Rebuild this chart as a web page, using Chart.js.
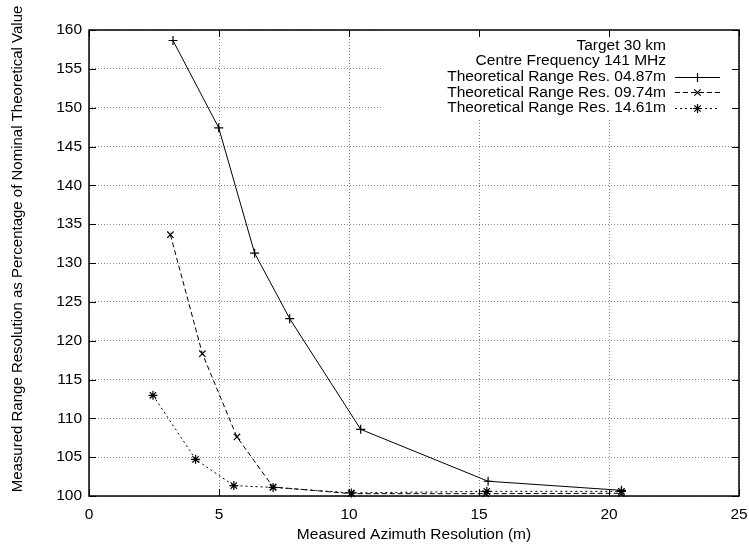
<!DOCTYPE html>
<html>
<head>
<meta charset="utf-8">
<script src="https://cdn.jsdelivr.net/npm/chart.js@4.4.1/dist/chart.umd.min.js"></script>
<style>
  html, body { margin: 0; padding: 0; background: #fff; }
  #wrap { width: 749px; height: 550px; }
</style>
</head>
<body>
<div id="wrap"><canvas id="c" width="749" height="550"></canvas></div>
<script>
// ---- data ----
const xTickValues = [0, 5, 10, 15, 20, 25];
const yTickValues = [100, 105, 110, 115, 120, 125, 130, 135, 140, 145, 150, 155, 160];

const res487X = [3.23, 4.99, 6.37, 7.72, 10.45, 15.35, 20.48];
const res487Y = [158.65, 147.4, 131.27, 122.83, 108.58, 101.9, 100.73];

const res974X = [3.13, 4.36, 5.69, 7.08, 10.09, 15.26, 20.48];
const res974Y = [133.64, 118.33, 107.6, 101.16, 100.3, 100.3, 100.35];

const res1461X = [2.46, 4.10, 5.57, 7.08, 10.09, 15.30, 20.48];
const res1461Y = [112.96, 104.72, 101.34, 101.1, 100.4, 100.6, 100.6];

const seriesLabels = [
  'Theoretical Range Res. 04.87m',
  'Theoretical Range Res. 09.74m',
  'Theoretical Range Res. 14.61m'
];
const keyTitleLines = ['Target 30 km', 'Centre Frequency 141 MHz'];
const xTitle = 'Measured Azimuth Resolution (m)';
const yTitle = 'Measured Range Resolution as Percentage of Nominal Theoretical Value';

function pts(xs, ys) { return xs.map((x, i) => ({ x: x, y: ys[i] })); }

const FONT = 'Liberation Sans, Arial, Helvetica, sans-serif';
const FS = 15.5;
Chart.defaults.font.family = FONT;
Chart.defaults.font.size = FS;
Chart.defaults.color = '#000';

const styles = [
  { pointStyle: 'cross', dash: [] },
  { pointStyle: 'crossRot', dash: [5, 3] },
  { pointStyle: 'star', dash: [2, 3] }
];

function mkDataset(label, xs, ys, st) {
  return {
    label: label,
    data: pts(xs, ys),
    borderColor: '#000',
    backgroundColor: '#000',
    borderWidth: 1,
    borderDash: st.dash,
    pointStyle: st.pointStyle,
    pointRadius: 4.5,
    pointBorderWidth: 1.2,
    pointBorderColor: '#000',
    pointHoverRadius: 4.5,
    tension: 0,
    fill: false,
    clip: false
  };
}

function drawMarker(ctx, style, x, y, r) {
  ctx.save();
  ctx.setLineDash([]);
  ctx.lineWidth = 1.2;
  ctx.strokeStyle = '#000';
  ctx.beginPath();
  if (style === 'cross' || style === 'star') {
    ctx.moveTo(x - r, y); ctx.lineTo(x + r, y);
    ctx.moveTo(x, y - r); ctx.lineTo(x, y + r);
  }
  if (style === 'crossRot' || style === 'star') {
    const d = r * 0.7071;
    ctx.moveTo(x - d, y - d); ctx.lineTo(x + d, y + d);
    ctx.moveTo(x - d, y + d); ctx.lineTo(x + d, y - d);
  }
  ctx.stroke();
  ctx.restore();
}

const keyPlugin = {
  id: 'gnuKey',
  beforeDatasetsDraw(chart) {
    const ca = chart.chartArea, ctx = chart.ctx;
    ctx.save();
    ctx.fillStyle = '#fff';
    ctx.fillRect(ca.left + 294, ca.top, ca.right - ca.left - 294, 88);
    ctx.restore();
  },
  afterDraw(chart) {
    const ca = chart.chartArea, ctx = chart.ctx;
    const xs = chart.scales.x, ys = chart.scales.y;
    ctx.save();
    // border
    ctx.strokeStyle = '#000';
    ctx.lineWidth = 1.5;
    ctx.setLineDash([]);
    ctx.strokeRect(ca.left, ca.top, ca.right - ca.left, ca.bottom - ca.top);
    // inward ticks, mirrored
    ctx.lineWidth = 1;
    ctx.beginPath();
    const tl = 7;
    xTickValues.forEach(v => {
      const px = Math.round(xs.getPixelForValue(v)) + 0.5;
      ctx.moveTo(px, ca.bottom); ctx.lineTo(px, ca.bottom - tl);
      ctx.moveTo(px, ca.top); ctx.lineTo(px, ca.top + tl);
    });
    yTickValues.forEach(v => {
      const py = Math.round(ys.getPixelForValue(v)) + 0.5;
      ctx.moveTo(ca.left, py); ctx.lineTo(ca.left + tl, py);
      ctx.moveTo(ca.right, py); ctx.lineTo(ca.right - tl, py);
    });
    ctx.stroke();
    // y axis title (rotated)
    ctx.save();
    ctx.font = '15px ' + FONT;
    ctx.fillStyle = '#000';
    ctx.textAlign = 'center';
    ctx.textBaseline = 'middle';
    ctx.translate(18, 249);
    ctx.rotate(-Math.PI / 2);
    ctx.fillText(yTitle, 0, 0);
    ctx.restore();
    // key text
    ctx.font = FS + 'px ' + FONT;
    ctx.fillStyle = '#000';
    ctx.textAlign = 'right';
    ctx.textBaseline = 'middle';
    const textRight = ca.right - 73;
    const lh = 15.6;
    let y0 = ca.top + 15.5;
    const lines = keyTitleLines.concat(seriesLabels);
    lines.forEach((t, i) => ctx.fillText(t, textRight, y0 + i * lh));
    // samples
    const sx0 = ca.right - 64, sx1 = ca.right - 19;
    seriesLabels.forEach((t, i) => {
      const y = Math.round(y0 + (i + 2) * lh) + 0.5;
      ctx.beginPath();
      ctx.setLineDash(styles[i].dash);
      ctx.lineWidth = 1;
      ctx.moveTo(sx0, y); ctx.lineTo(sx1, y);
      ctx.stroke();
      drawMarker(ctx, styles[i].pointStyle, (sx0 + sx1) / 2, y, 4.5);
    });
    ctx.restore();
  }
};

new Chart(document.getElementById('c'), {
  type: 'line',
  data: {
    datasets: [
      mkDataset(seriesLabels[0], res487X, res487Y, styles[0]),
      mkDataset(seriesLabels[1], res974X, res974Y, styles[1]),
      mkDataset(seriesLabels[2], res1461X, res1461Y, styles[2])
    ]
  },
  options: {
    responsive: false,
    animation: false,
    devicePixelRatio: 1,
    layout: { padding: { top: 30, right: 10, left: 0, bottom: 0 } },
    plugins: { legend: { display: false }, tooltip: { enabled: false } },
    scales: {
      x: {
        type: 'linear',
        min: 0, max: 25,
        afterBuildTicks(scale) { scale.ticks = xTickValues.map(v => ({ value: v })); },
        afterFit(scale) { scale.height = 54; scale.paddingLeft = 0; scale.paddingRight = 0; },
        ticks: { padding: 9, font: { size: FS }, color: '#000' },
        grid: { color: '#888', lineWidth: 1, drawTicks: false },
        border: { display: false, dash: [1, 2] },
        title: { display: true, text: xTitle, font: { size: FS }, color: '#000', padding: { top: 0, bottom: 6 } }
      },
      y: {
        type: 'linear',
        min: 100, max: 160,
        afterBuildTicks(scale) { scale.ticks = yTickValues.map(v => ({ value: v })); },
        afterFit(scale) { scale.width = 89; scale.paddingTop = 0; scale.paddingBottom = 0; },
        ticks: { padding: 7, font: { size: FS }, color: '#000' },
        grid: { color: '#888', lineWidth: 1, drawTicks: false },
        border: { display: false, dash: [1, 2] },
        title: { display: false }
      }
    }
  },
  plugins: [keyPlugin]
});
</script>
</body>
</html>
